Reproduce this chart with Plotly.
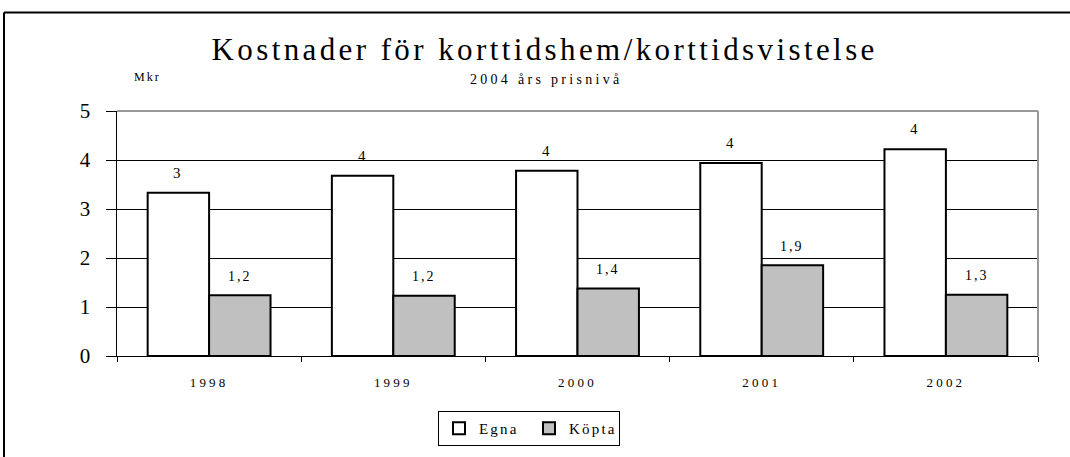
import plotly.graph_objects as go

years = ["1998", "1999", "2000", "2001", "2002"]
egna = [3.33, 3.68, 3.78, 3.94, 4.22]
kopta = [1.24, 1.23, 1.38, 1.85, 1.25]
egna_labels = ["3", "4", "4", "4", "4"]
kopta_labels = ["1,2", "1,2", "1,4", "1,9", "1,3"]
y_ticks = [0, 1, 2, 3, 4, 5]

FONT = "Liberation Serif, Times New Roman, serif"

fig = go.Figure()
fig.add_trace(go.Bar(
    name="Egna", x=years, y=egna,
    marker=dict(color="#FFFFFF", line=dict(color="#000000", width=2)),
))
fig.add_trace(go.Bar(
    name="Köpta", x=years, y=kopta,
    marker=dict(color="#C0C0C0", line=dict(color="#000000", width=2)),
))

# plot area geometry (pixels) used for offsets
L, R, T, B = 117, 32, 111, 100
W, H = 1070, 457
pw = W - L - R
ph = H - T - B
bargap = 0.333
bar_w = pw / len(years) * (1 - bargap) / 2

annotations = []
for i, (v, t) in enumerate(zip(egna, egna_labels)):
    annotations.append(dict(x=i, y=v, text=t, showarrow=False, xref="x", yref="y",
                            xshift=-bar_w / 2, yshift=20, yanchor="middle",
                            font=dict(family=FONT, size=15, color="#000")))
for i, (v, t) in enumerate(zip(kopta, kopta_labels)):
    annotations.append(dict(x=i, y=v, text=t, showarrow=False, xref="x", yref="y",
                            xshift=bar_w / 2, yshift=19, yanchor="middle",
                            font=dict(family=FONT, size=14, color="#000")))

def px_x(p):
    return (p - L) / pw

def px_y(p):
    return (H - B - p) / ph

annotations.append(dict(text="2004 års prisnivå", xref="paper", yref="paper",
                        x=px_x(546), y=px_y(79), showarrow=False,
                        xanchor="center", yanchor="middle",
                        font=dict(family=FONT, size=14, color="#000")))
annotations.append(dict(text="Mkr", xref="paper", yref="paper",
                        x=px_x(147), y=px_y(77), showarrow=False,
                        xanchor="center", yanchor="middle",
                        font=dict(family=FONT, size=12, color="#000")))

shapes = [
    # outer chart frame (top + left visible)
    dict(type="line", xref="paper", yref="paper", x0=px_x(4), x1=px_x(1075),
         y0=px_y(12), y1=px_y(12), line=dict(color="#000", width=2)),
    dict(type="line", xref="paper", yref="paper", x0=px_x(4), x1=px_x(4),
         y0=px_y(12), y1=px_y(462), line=dict(color="#000", width=2)),
    # plot area border top + right (gray)
    dict(type="line", xref="paper", yref="paper", x0=0, x1=1, y0=1, y1=1,
         line=dict(color="#999999", width=2), layer="above"),
    dict(type="line", xref="paper", yref="paper", x0=1, x1=1, y0=0, y1=1,
         line=dict(color="#999999", width=2), layer="above"),
]

fig.update_layout(
    width=W, height=H,
    margin=dict(l=L, r=R, t=T, b=B),
    paper_bgcolor="#FFFFFF", plot_bgcolor="#FFFFFF",
    barmode="group", bargap=bargap, bargroupgap=0,
    title=dict(text="Kostnader för korttidshem/korttidsvistelse",
               x=0.509, xref="container", xanchor="center",
               y=1 - 49 / H, yref="container", yanchor="middle",
               font=dict(family=FONT, size=31, color="#000")),
    showlegend=True,
    legend=dict(orientation="h", x=px_x(529), xanchor="center",
                y=px_y(411), yanchor="top",
                bordercolor="#000", borderwidth=1, bgcolor="#FFF",
                font=dict(family=FONT, size=15, color="#000"),
                itemwidth=30, tracegroupgap=0,
                entrywidth=45, entrywidthmode="pixels"),
    annotations=annotations,
    shapes=shapes,
)

fig.update_xaxes(type="category", range=[-0.5, len(years) - 0.5],
                 showline=True, linecolor="#000", linewidth=1,
                 ticks="outside", ticklen=5, tickcolor="#000", tickson="boundaries",
                 tickfont=dict(family=FONT, size=13, color="#000"), tickangle=0,
                 ticklabelstandoff=14, showgrid=False, zeroline=False)
fig.update_yaxes(range=[0, 5], tickvals=y_ticks, showline=True, linecolor="#000",
                 linewidth=1.5, ticks="outside", ticklen=10, tickcolor="#000",
                 tickfont=dict(family=FONT, size=21, color="#000"),
                 ticklabelstandoff=11, showgrid=True, gridcolor="#000", gridwidth=1,
                 zeroline=False)

n_data = len(egna) + len(kopta)
post = """
document.body.style.margin = '0';
var gd = document.getElementById('{plot_id}');
function sp(sel, v) { gd.querySelectorAll(sel).forEach(function(e) { e.style.letterSpacing = v; }); }
sp('.gtitle', '3.4px');
sp('.xtick text', '3.2px');
sp('.legendtext', '2.2px');
gd.querySelectorAll('.annotation').forEach(function(g) {
  var i = parseInt(g.getAttribute('data-index'));
  var t = g.querySelector('.annotation-text');
  if (!t) return;
  if (i < N_DATA) { t.style.letterSpacing = '2px'; }
  else if (i === N_DATA) { t.style.letterSpacing = '3.3px'; }
  else { t.style.letterSpacing = '2px'; }
});
""".replace("N_DATA", str(n_data))

fig.write_html("out.html", post_script=post,
               config={"displayModeBar": False, "staticPlot": True})
